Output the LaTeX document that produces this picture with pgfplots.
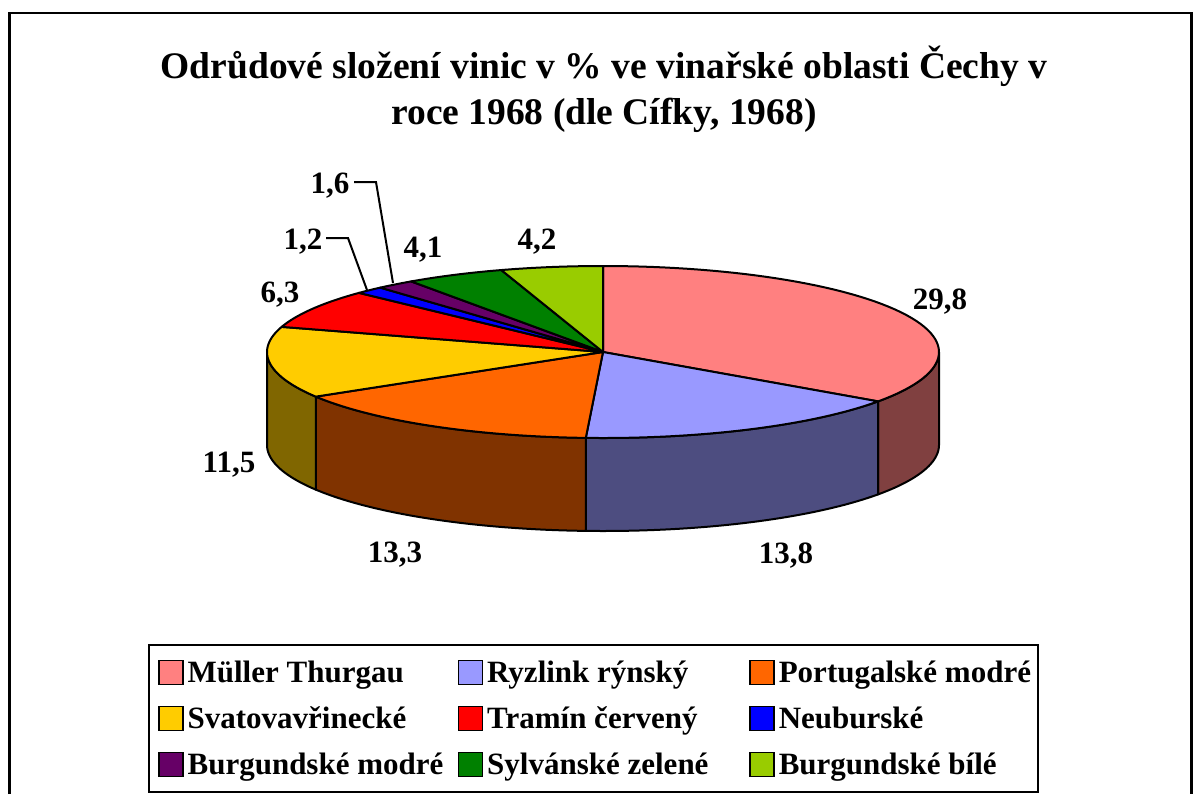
\documentclass[border=0pt]{standalone}
\usepackage{fontspec}
\setmainfont{Liberation Serif}
\usepackage{pgfplots}
\pgfplotsset{compat=1.18}
\definecolor{cMT}{HTML}{FF8080}\definecolor{sMT}{HTML}{804040}
\definecolor{cRR}{HTML}{9999FF}\definecolor{sRR}{HTML}{4D4D80}
\definecolor{cPM}{HTML}{FF6600}\definecolor{sPM}{HTML}{803300}
\definecolor{cSV}{HTML}{FFCC00}\definecolor{sSV}{HTML}{806600}
\definecolor{cTC}{HTML}{FF0000}
\definecolor{cNE}{HTML}{0000FF}
\definecolor{cBM}{HTML}{660066}
\definecolor{cSZ}{HTML}{008000}
\definecolor{cBB}{HTML}{99CC00}
% data (percent)
\def\vA{29.8}% Muller Thurgau
\def\vB{13.8}% Ryzlink rynsky
\def\vC{13.3}% Portugalske modre
\def\vD{11.5}% Svatovavrinecke
\def\vE{6.3}%  Tramin cerveny
\def\vF{1.2}%  Neuburske
\def\vG{1.6}%  Burgundske modre
\def\vH{4.1}%  Sylvanske zelene
\def\vI{4.2}%  Burgundske bile
\pgfmathsetmacro\tot{\vA+\vB+\vC+\vD+\vE+\vF+\vG+\vH+\vI}
\pgfmathsetmacro\aA{90}
\pgfmathsetmacro\aB{\aA-360*\vA/\tot}
\pgfmathsetmacro\aC{\aB-360*\vB/\tot}
\pgfmathsetmacro\aD{\aC-360*\vC/\tot}
\pgfmathsetmacro\aE{\aD-360*\vD/\tot}
\pgfmathsetmacro\aF{\aE-360*\vE/\tot}
\pgfmathsetmacro\aG{\aF-360*\vF/\tot}
\pgfmathsetmacro\aH{\aG-360*\vG/\tot}
\pgfmathsetmacro\aI{\aH-360*\vH/\tot}
\pgfmathsetmacro\aJ{\aI-360*\vI/\tot}
\def\cx{603}\def\cy{352}\def\rx{336}\def\ry{86}\def\dep{93}
\newcommand{\pieslice}[3]{%
\addplot[forget plot, fill=#1, draw=black, line width=1pt, line join=round,
  samples at={-1,0,1,...,60,61}, variable=\t]
 ({ifthenelse(\t<0 || \t>60, \cx, \cx+\rx*cos((#2)+((#3)-(#2))*\t/60))},
  {ifthenelse(\t<0 || \t>60, \cy, \cy-\ry*sin((#2)+((#3)-(#2))*\t/60))});}
\newcommand{\pieside}[3]{%
\addplot[forget plot, fill=#1, draw=black, line width=1pt, line join=round,
  samples at={0,1,...,40,100,101,...,140,200}, variable=\t]
 ({\cx+\rx*cos(ifthenelse(\t<=40, (#2)+((#3)-(#2))*\t/40, ifthenelse(\t<=140, (#3)-((#3)-(#2))*(\t-100)/40, (#2))))},
  {\cy-\ry*sin(ifthenelse(\t<=40, (#2)+((#3)-(#2))*\t/40, ifthenelse(\t<=140, (#3)-((#3)-(#2))*(\t-100)/40, (#2)))) + ifthenelse(\t>40 && \t<=140, \dep, 0)});}
\newcommand{\lbl}{\fontsize{15.5}{18}\selectfont\bfseries}
\newcommand{\legimg}[1]{\addlegendimage{legend image code/.code={\filldraw[fill=#1,draw=black,line width=0.8pt] (0pt,-6pt) rectangle (12pt,6pt);}}}
\begin{document}
\begin{tikzpicture}
\begin{axis}[
  scale only axis, width=597pt, height=397pt,
  xmin=0, xmax=1194, ymin=0, ymax=794, y dir=reverse,
  hide axis, clip=false,
  legend columns=3,
  legend cell align=left,
  legend style={at={(axis cs:148,644)}, anchor=north west, draw=black, line width=1pt,
    font=\lbl, inner xsep=4.5pt, inner ysep=6.75pt, row sep=9pt,
    nodes={inner sep=0pt, text height=12pt, text depth=2pt},
    /tikz/every odd column/.append style={column sep=2pt}},
]
% side walls
\pieside{sMT}{\aB}{0}
\pieside{sRR}{\aC}{\aB}
\pieside{sPM}{\aD}{\aC}
\pieside{sSV}{-180}{\aD}
% top faces
\pieslice{cMT}{\aA}{\aB}
\pieslice{cRR}{\aB}{\aC}
\pieslice{cPM}{\aC}{\aD}
\pieslice{cSV}{\aD}{\aE}
\pieslice{cTC}{\aE}{\aF}
\pieslice{cNE}{\aF}{\aG}
\pieslice{cBM}{\aG}{\aH}
\pieslice{cSZ}{\aH}{\aI}
\pieslice{cBB}{\aI}{\aJ}
% leader lines
\addplot[forget plot, black, line width=1pt] coordinates {(326,238) (348,238) (367,290)};
\addplot[forget plot, black, line width=1pt] coordinates {(354,182) (376,182) (393,283)};
% data labels
\node[font=\lbl, anchor=base] at (axis cs:940,309) {29,8};
\node[font=\lbl, anchor=base] at (axis cs:786,563) {13,8};
\node[font=\lbl, anchor=base] at (axis cs:395,562) {13,3};
\node[font=\lbl, anchor=base] at (axis cs:229,472) {11,5};
\node[font=\lbl, anchor=base] at (axis cs:280,302) {6,3};
\node[font=\lbl, anchor=base] at (axis cs:303,249) {1,2};
\node[font=\lbl, anchor=base] at (axis cs:330,193) {1,6};
\node[font=\lbl, anchor=base] at (axis cs:423,257) {4,1};
\node[font=\lbl, anchor=base] at (axis cs:537,249) {4,2};
% title
\node[font=\fontsize{18.75}{23}\selectfont\bfseries, anchor=base] at (axis cs:604,78) {Odrůdové složení vinic v \% ve vinařské oblasti Čechy v};
\node[font=\fontsize{18.75}{23}\selectfont\bfseries, anchor=base] at (axis cs:604,124) {roce 1968 (dle Cífky, 1968)};
% outer frame
\draw[line width=1.2pt] (axis cs:9.5,794) -- (axis cs:9.5,13) -- (axis cs:1191.5,13) -- (axis cs:1191.5,794);
% legend
\legimg{cMT}\addlegendentry{\makebox[135pt][l]{Müller Thurgau}}
\legimg{cRR}\addlegendentry{\makebox[131pt][l]{Ryzlink rýnský}}
\legimg{cPM}\addlegendentry{\makebox[125pt][l]{Portugalské modré}}
\legimg{cSV}\addlegendentry{\makebox[135pt][l]{Svatovavřinecké}}
\legimg{cTC}\addlegendentry{\makebox[131pt][l]{Tramín červený}}
\legimg{cNE}\addlegendentry{\makebox[125pt][l]{Neuburské}}
\legimg{cBM}\addlegendentry{\makebox[135pt][l]{Burgundské modré}}
\legimg{cSZ}\addlegendentry{\makebox[131pt][l]{Sylvánské zelené}}
\legimg{cBB}\addlegendentry{\makebox[125pt][l]{Burgundské bílé}}
\end{axis}
\pgfresetboundingbox
\path (current axis.south west) rectangle (current axis.north east);
\end{tikzpicture}
\end{document}
